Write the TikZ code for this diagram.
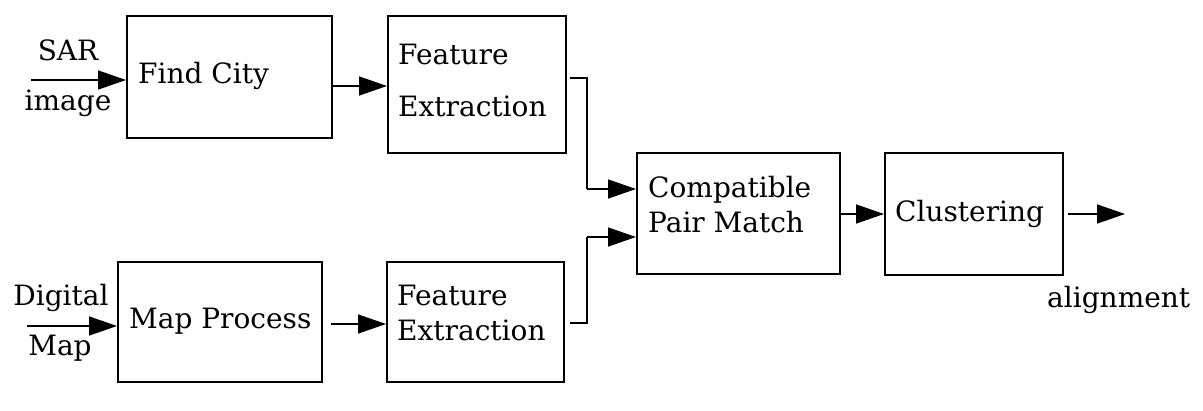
\documentclass[tikz,border=0pt]{standalone}
\usepackage{fontspec}
\setmainfont{DejaVu Serif}
\usetikzlibrary{arrows.meta}
\begin{document}
\begin{tikzpicture}[x=1pt,y=-1pt,
  box/.style={draw, line width=2pt, inner sep=0pt},
  txt/.style={font=\fontsize{28}{35}\selectfont, inner sep=0pt, align=left},
  arr/.style={line width=1.5pt, -{Triangle[length=28pt,width=19pt]}},
  wire/.style={line width=1.5pt}]
\useasboundingbox[fill=white] (0,0) rectangle (1203,410);
% boxes
\node[box, minimum width=205pt, minimum height=122pt] (fc)  at (229.5,77) {};
\node[box, minimum width=178pt, minimum height=137pt] (fe1) at (477,84.5) {};
\node[box, minimum width=203pt, minimum height=121pt] (cpm) at (738.5,213.5) {};
\node[box, minimum width=178pt, minimum height=122pt] (cl)  at (974,214) {};
\node[box, minimum width=204pt, minimum height=120pt] (mp)  at (220,322) {};
\node[box, minimum width=177pt, minimum height=120pt] (fe2) at (475.5,322) {};
% box texts
\node[txt, anchor=base west] (fct) at (138,83) {Find City};
\node[txt, anchor=base west] (fe1a) at (398,64) {Feature};
\node[txt, anchor=base west] (fe1b) at (398,116) {Extraction};
\node[txt, anchor=base west] (cpma) at (648,197) {Compatible};
\node[txt, anchor=base west] (cpmb) at (648,232) {Pair Match};
\node[txt, anchor=base west] (clt) at (895,221) {Clustering};
\node[txt, anchor=base west] (mpt) at (129,328) {Map Process};
\node[txt, anchor=base west] (fe2a) at (397,305) {Feature};
\node[txt, anchor=base west] (fe2b) at (397,340) {Extraction};
% outer labels
\node[txt, anchor=base] (sar) at (68,60) {SAR};
\node[txt, anchor=base] (img) at (68,110) {image};
\node[txt, anchor=base] (dig) at (61,305) {Digital};
\node[txt, anchor=base] (map) at (60,355) {Map};
\node[txt, anchor=base west] (aln) at (1047,307) {alignment};
% free ends
\coordinate (sarin) at (31,80);
\coordinate (digin) at (27,326);
\coordinate (out) at (1125,214);
\coordinate (j1) at (587,78);
\coordinate (j2) at (587,323);
% connectors
\draw[arr] (sarin) -- (sarin -| fc.west);
\draw[arr] (digin) -- (digin -| mp.west);
\draw[arr] ([yshift=-9pt]fc.east) -- ([yshift=-9pt]fc.east -| fe1.west);
\draw[arr] ([xshift=8pt,yshift=-2pt]mp.east) -- ([yshift=-2pt]mp.east -| fe2.west);
\draw[wire] ([xshift=3pt]fe1.east |- j1) -- (j1) -- ++(0,111) coordinate (k1);
\draw[arr] (k1) -- (k1 -| cpm.west);
\draw[wire] ([xshift=5pt]fe2.east |- j2) -- (j2) -- ++(0,-86) coordinate (k2);
\draw[arr] (k2) -- (k2 -| cpm.west);
\draw[arr] (cpm.east |- out) -- (cl.west |- out);
\draw[arr] ([xshift=4pt]cl.east |- out) -- (out);
\end{tikzpicture}
\end{document}
